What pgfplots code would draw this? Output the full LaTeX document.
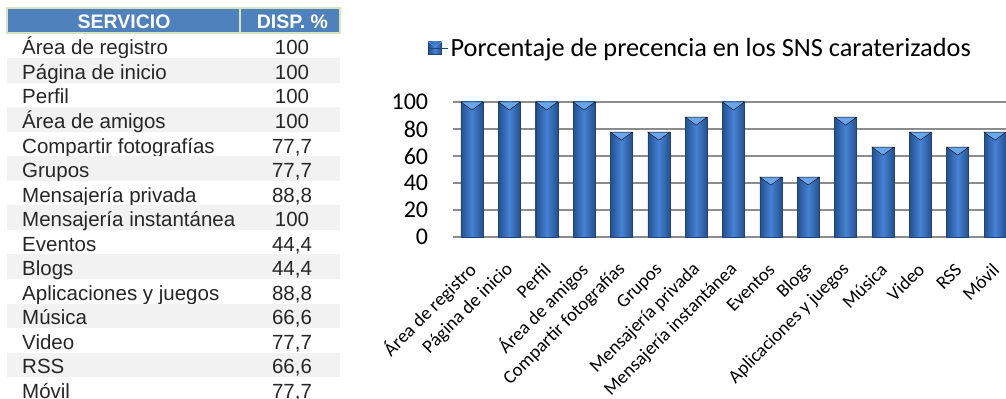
\documentclass[border=0pt]{standalone}
\usepackage{fontspec}
\setmainfont{Liberation Sans}
\newfontfamily\calib{Carlito}
\usepackage{pgfplots}
\pgfplotsset{compat=1.18}
\definecolor{hdrblue}{HTML}{4F81BD}
\definecolor{hdrline}{HTML}{D7E4BD}
\definecolor{rowgray}{HTML}{F2F2F2}
\definecolor{txtgray}{HTML}{262626}
\definecolor{bardark}{HTML}{24508F}
\definecolor{barmid}{HTML}{4682D4}
\definecolor{bartop}{HTML}{6AA6EC}
\definecolor{gridgray}{HTML}{8C8C8C}
\newcommand\trow[3]{%
  \pgfmathsetmacro\rt{399-(33.5+24.55*(#1-1))}%
  \ifodd#1 \else\fill[rowgray] (7,\rt) rectangle (340,\rt-24.55);\fi
  \node[anchor=base west, inner sep=0pt, text=txtgray, font=\fontsize{20.5bp}{24bp}\selectfont] at (22,\rt-21.3) {#2};
  \node[anchor=base, inner sep=0pt, text=txtgray, font=\fontsize{20.5bp}{24bp}\selectfont] at (292,\rt-21.3) {#3};
}
\pgfplotsset{mybar/.style={ybar, bar width=22bp, draw=bardark!85!black, line width=0.4bp, left color=bardark, right color=bardark, middle color=barmid}}
\begin{document}
\begin{tikzpicture}
\useasboundingbox (0bp,0bp) rectangle (1006bp,399bp);
\begin{scope}[x=1bp,y=1bp]
\fill[hdrblue] (7,366) rectangle (340,391);
\draw[hdrline, line width=2bp] (7,366) rectangle (340,391);
\draw[hdrline, line width=2bp] (240,366) -- (240,391);
\node[anchor=base, inner sep=0pt, text=white, font=\bfseries\fontsize{19.5bp}{22bp}\selectfont] at (124,370.7) {SERVICIO};
\node[anchor=base, inner sep=0pt, text=white, font=\bfseries\fontsize{19.5bp}{22bp}\selectfont] at (292.5,370.7) {DISP. \%};
\trow{1}{Área de registro}{100}
\trow{2}{Página de inicio}{100}
\trow{3}{Perfil}{100}
\trow{4}{Área de amigos}{100}
\trow{5}{Compartir fotografías}{77,7}
\trow{6}{Grupos}{77,7}
\trow{7}{Mensajería privada}{88,8}
\trow{8}{Mensajería instantánea}{100}
\trow{9}{Eventos}{44,4}
\trow{10}{Blogs}{44,4}
\trow{11}{Aplicaciones y juegos}{88,8}
\trow{12}{Música}{66,6}
\trow{13}{Video}{77,7}
\trow{14}{RSS}{66,6}
\trow{15}{Móvil}{77,7}
\end{scope}
\begin{axis}[
  at={(453.3bp,162bp)}, anchor=south west,
  scale only axis, width=560.4bp, height=135bp,
  xmin=-0.5, xmax=14.5, ymin=0, ymax=100,
  axis line style={draw=none},
  major tick length=0pt,
  ytick={0,20,...,100},
  ymajorgrids, grid style={gridgray, line width=1.3bp},
  xtick={0,...,14},
  xticklabels={Área de registro, Página de inicio, Perfil, Área de amigos, Compartir fotografías, Grupos, Mensajería privada, Mensajería instantánea, Eventos, Blogs, Aplicaciones y juegos, Música, Video, RSS, Móvil},
  xticklabel style={font=\calib\fontsize{18.8bp}{21bp}\selectfont, inner sep=0pt, xshift=1bp, yshift=-29.5bp, rotate=45, anchor=east},
  yticklabel style={font=\calib\fontsize{24bp}{28bp}\selectfont, inner sep=0pt, xshift=-25bp},
  /pgf/number format/assume math mode=true,
  clip=false,
  legend style={at={(axis description cs:-0.045,1.4)}, anchor=west, draw=none, fill=none, inner sep=0pt, font=\calib\fontsize{26.3bp}{30bp}\selectfont},
  legend image code/.code={\shade[left color=bardark, right color=bardark, middle color=barmid] (0bp,-6bp) rectangle (13bp,6bp); \fill[bartop] (0bp,6bp) -- (13bp,6bp) -- (6.5bp,1.5bp) -- cycle; \path (0bp,0bp) -- (20bp,0bp);},
]
\addplot[mybar] coordinates {(0,100)};
\addlegendentry{Porcentaje de precencia en los SNS caraterizados}
\addplot[mybar, forget plot] coordinates {(1,100)};
\addplot[mybar, forget plot] coordinates {(2,100)};
\addplot[mybar, forget plot] coordinates {(3,100)};
\addplot[mybar, forget plot] coordinates {(4,77.7)};
\addplot[mybar, forget plot] coordinates {(5,77.7)};
\addplot[mybar, forget plot] coordinates {(6,88.8)};
\addplot[mybar, forget plot] coordinates {(7,100)};
\addplot[mybar, forget plot] coordinates {(8,44.4)};
\addplot[mybar, forget plot] coordinates {(9,44.4)};
\addplot[mybar, forget plot] coordinates {(10,88.8)};
\addplot[mybar, forget plot] coordinates {(11,66.6)};
\addplot[mybar, forget plot] coordinates {(12,77.7)};
\addplot[mybar, forget plot] coordinates {(13,66.6)};
\addplot[mybar, forget plot] coordinates {(14,77.7)};
\addplot[only marks, forget plot, mark=triangle*, mark size=12.7bp, mark options={yshift=-2.7bp, rotate=180, yscale=0.42, fill=bartop, draw=none}] coordinates {
(0,100) (1,100) (2,100) (3,100) (4,77.7) (5,77.7) (6,88.8) (7,100) (8,44.4) (9,44.4) (10,88.8) (11,66.6) (12,77.7) (13,66.6) (14,77.7)};
\end{axis}
\end{tikzpicture}
\end{document}
